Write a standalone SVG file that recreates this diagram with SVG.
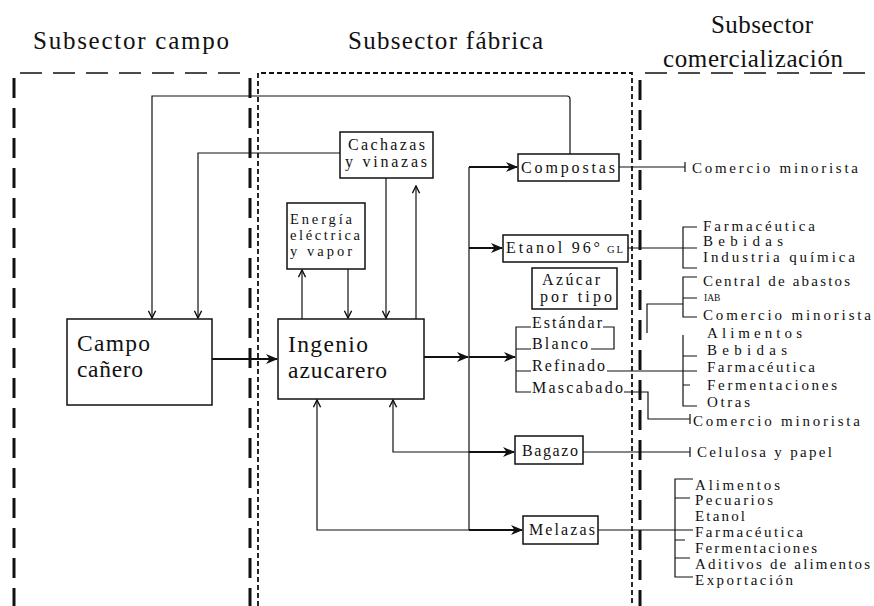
<svg xmlns="http://www.w3.org/2000/svg" width="874" height="606" viewBox="0 0 874 606">
<style>
text{font-family:"Liberation Serif","DejaVu Serif",serif;fill:#111}
.h{font-size:25px}
.big{font-size:23.5px}
.b{font-size:16px}
.s{font-size:14.5px}
.r{font-size:15px}
.box{fill:#fff;stroke:#111;stroke-width:1.5}
.ln{fill:none;stroke:#111;stroke-width:1.2}
.tk{fill:none;stroke:#111;stroke-width:2.2}
.bd1{fill:none;stroke:#111;stroke-width:3;stroke-dasharray:20 10}
.bd2{fill:none;stroke:#111;stroke-width:1.8;stroke-dasharray:5 3}
.bd3{fill:none;stroke:#111;stroke-width:1.5;stroke-dasharray:22 11}
</style>
<defs>
<marker id="ah" viewBox="0 0 12 10" refX="11" refY="5" markerWidth="12" markerHeight="10" markerUnits="userSpaceOnUse" orient="auto"><path d="M0,0 L12,5 L0,10 L3.5,5 z" fill="#111"/></marker>
<marker id="ch" viewBox="0 0 10 10" refX="9" refY="5" markerWidth="9" markerHeight="9" markerUnits="userSpaceOnUse" orient="auto"><path d="M1,1 L9,5 L1,9" fill="none" stroke="#111" stroke-width="1.6"/></marker>
</defs>

<g id="boundaries">
<path class="bd3" d="M20,73 H246"/>
<path class="bd3" d="M645,73 H874"/>
<path class="bd1" d="M14,78 V606"/>
<path class="bd1" d="M250,78 V606"/>
<path class="bd1" d="M640,80 V606"/>
<path class="bd2" d="M258,606 V73 H632 V606"/>
</g>

<g id="headers">
<text class="h" x="33" y="49" textLength="196" lengthAdjust="spacing">Subsector campo</text>
<text class="h" x="348" y="49" textLength="195" lengthAdjust="spacing">Subsector fábrica</text>
<text class="h" x="711" y="33" textLength="102" lengthAdjust="spacing">Subsector</text>
<text class="h" x="663" y="67" textLength="180" lengthAdjust="spacing">comercialización</text>
</g>

<g id="connectors">
<path class="ln" d="M570,154 V99 Q570,96 567,96 H152 V318" marker-end="url(#ch)"/>
<path class="ln" d="M340,153 H198 V318" marker-end="url(#ch)"/>
<path class="ln" d="M386,178 V318" marker-end="url(#ch)"/>
<path class="ln" d="M416,319 V186" marker-end="url(#ch)"/>
<path class="ln" d="M302,319 V270" marker-end="url(#ch)"/>
<path class="ln" d="M348,269 V318" marker-end="url(#ch)"/>
<path class="ln" d="M469,167 V530"/>
<path class="ln" d="M469,452 H393 V400" marker-end="url(#ch)"/>
<path class="ln" d="M469,530 H317 V400" marker-end="url(#ch)"/>
<path class="tk" d="M212,359 H277" marker-end="url(#ah)"/>
<path class="tk" d="M424,357 H468" marker-end="url(#ah)"/>
<path class="tk" d="M469,357 H515" marker-end="url(#ah)"/>
<path class="tk" d="M469,167 H517" marker-end="url(#ah)"/>
<path class="tk" d="M469,248 H502" marker-end="url(#ah)"/>
<path class="tk" d="M469,452 H514" marker-end="url(#ah)"/>
<path class="tk" d="M469,530 H522" marker-end="url(#ah)"/>
<path class="ln" d="M619,167 H685 M685,162 V172"/>
<path class="ln" d="M628,248 H697 M697,227 H683 V268 H697"/>
<path class="ln" d="M647,333 V304 H683 M697,277 H683 V317 H697 M683,298 H697"/>
<path class="ln" d="M531,327 H516 V392 H531 M516,349 H531 M516,371 H531"/>
<path class="ln" d="M603,327 H614 V349 H591"/>
<path class="ln" d="M607,371 H697"/>
<path class="ln" d="M683,335 V406 H697 M683,356 H697 M683,385 H690"/>
<path class="ln" d="M624,392 H648 V419 H690 M690,414 V424"/>
<path class="ln" d="M583,452 H690 M690,447 V457"/>
<path class="ln" d="M598,530 H693 M693,479 H675 V577 H693 M675,498 H690 M675,540 H685 M675,558 H690"/>
</g>

<g id="campo">
<rect class="box" x="67" y="319" width="145" height="86"/>
<text class="big" x="77" y="351" textLength="73" lengthAdjust="spacing">Campo</text>
<text class="big" x="77" y="377" textLength="66" lengthAdjust="spacing">cañero</text>
</g>
<g id="ingenio">
<rect class="box" x="278" y="319" width="146" height="80"/>
<text class="big" x="288" y="352" textLength="80" lengthAdjust="spacing">Ingenio</text>
<text class="big" x="288" y="378" textLength="99" lengthAdjust="spacing">azucarero</text>
</g>
<g id="cachazas">
<rect class="box" x="340" y="132" width="93" height="46"/>
<text class="b" x="348" y="150" textLength="77" lengthAdjust="spacing">Cachazas</text>
<text class="b" x="345" y="167" textLength="82" lengthAdjust="spacing">y vinazas</text>
</g>
<g id="energia">
<rect class="box" x="287" y="203" width="78" height="66"/>
<text class="s" x="290" y="224" textLength="62" lengthAdjust="spacing">Energía</text>
<text class="s" x="290" y="240" textLength="70" lengthAdjust="spacing">eléctrica</text>
<text class="s" x="290" y="256" textLength="62" lengthAdjust="spacing">y vapor</text>
</g>
<g id="compostas">
<rect class="box" x="518" y="154" width="101" height="27"/>
<text class="b" x="521" y="173" textLength="94" lengthAdjust="spacing">Compostas</text>
</g>
<g id="etanol">
<rect class="box" x="503" y="235" width="125" height="27"/>
<text class="b" x="506" y="253" textLength="94" lengthAdjust="spacing">Etanol 96°</text>
<text x="607" y="253" font-size="10.5" textLength="16" lengthAdjust="spacing">GL</text>
</g>
<g id="azucar">
<rect class="box" x="532" y="268" width="85" height="41"/>
<text class="b" x="542" y="285" textLength="58" lengthAdjust="spacing">Azúcar</text>
<text class="b" x="540" y="302" textLength="72" lengthAdjust="spacing">por tipo</text>
</g>
<g id="tipos">
<text class="b" x="532" y="328" textLength="70" lengthAdjust="spacing">Estándar</text>
<text class="b" x="532" y="349" textLength="56" lengthAdjust="spacing">Blanco</text>
<text class="b" x="532" y="371" textLength="73" lengthAdjust="spacing">Refinado</text>
<text class="b" x="532" y="393" textLength="91" lengthAdjust="spacing">Mascabado</text>
</g>
<g id="bagazo">
<rect class="box" x="515" y="436" width="68" height="28"/>
<text class="b" x="522" y="456" textLength="56" lengthAdjust="spacing">Bagazo</text>
</g>
<g id="melazas">
<rect class="box" x="523" y="516" width="75" height="28"/>
<text class="b" x="529" y="535" textLength="66" lengthAdjust="spacing">Melazas</text>
</g>

<g id="destinos">
<text class="r" x="692" y="173" textLength="166" lengthAdjust="spacing">Comercio minorista</text>
<text class="r" x="703" y="231" textLength="112" lengthAdjust="spacing">Farmacéutica</text>
<text class="r" x="703" y="246" textLength="80" lengthAdjust="spacing">Bebidas</text>
<text class="r" x="703" y="262" textLength="152" lengthAdjust="spacing">Industria química</text>
<text class="r" x="703" y="286" textLength="147" lengthAdjust="spacing">Central de abastos</text>
<text x="704" y="301" font-size="9.5">IAB</text>
<text class="r" x="703" y="320" textLength="168" lengthAdjust="spacing">Comercio minorista</text>
<text class="r" x="707" y="338" textLength="95" lengthAdjust="spacing">Alimentos</text>
<text class="r" x="707" y="355" textLength="80" lengthAdjust="spacing">Bebidas</text>
<text class="r" x="707" y="372" textLength="108" lengthAdjust="spacing">Farmacéutica</text>
<text class="r" x="707" y="390" textLength="130" lengthAdjust="spacing">Fermentaciones</text>
<text class="r" x="707" y="407" textLength="43" lengthAdjust="spacing">Otras</text>
<text class="r" x="693" y="426" textLength="167" lengthAdjust="spacing">Comercio minorista</text>
<text class="r" x="697" y="457" textLength="135" lengthAdjust="spacing">Celulosa y papel</text>
<text class="r" x="695" y="490" textLength="85" lengthAdjust="spacing">Alimentos</text>
<text class="r" x="695" y="505" textLength="78" lengthAdjust="spacing">Pecuarios</text>
<text class="r" x="695" y="521" textLength="50" lengthAdjust="spacing">Etanol</text>
<text class="r" x="695" y="537" textLength="108" lengthAdjust="spacing">Farmacéutica</text>
<text class="r" x="695" y="553" textLength="122" lengthAdjust="spacing">Fermentaciones</text>
<text class="r" x="695" y="569" textLength="175" lengthAdjust="spacing">Aditivos de alimentos</text>
<text class="r" x="695" y="585" textLength="98" lengthAdjust="spacing">Exportación</text>
</g>
</svg>
